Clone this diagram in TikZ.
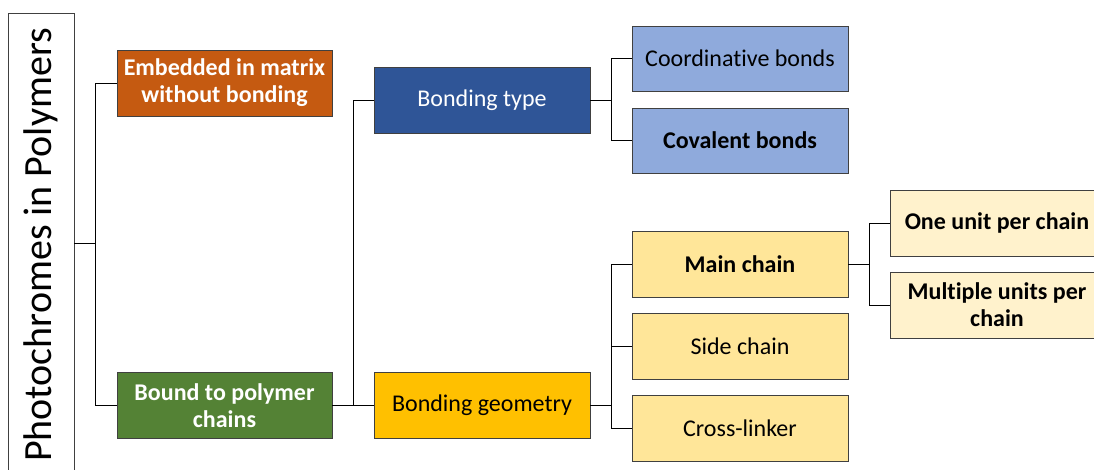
\documentclass[tikz,border=0pt]{standalone}
\usepackage{fontspec}
\setmainfont{Carlito}[Ligatures=NoCommon]
\definecolor{borderc}{HTML}{404040}
\definecolor{orangec}{HTML}{C55A11}
\definecolor{greenc}{HTML}{548235}
\definecolor{bluec}{HTML}{2F5597}
\definecolor{goldc}{HTML}{FFC000}
\definecolor{lbluec}{HTML}{8FAADC}
\definecolor{lgoldc}{HTML}{FFE699}
\definecolor{pgoldc}{HTML}{FFF2CC}
\tikzset{
  box/.style={draw=borderc, line width=0.9pt, rectangle, minimum width=215pt, minimum height=66pt, align=center, inner sep=1pt, font=\fontsize{24}{27}\selectfont},
  bbox/.style={box, font=\fontsize{24}{27}\selectfont\bfseries},
  link/.style={draw=black, line width=0.8pt},
}
\begin{document}
\begin{tikzpicture}[x=1pt,y=-1pt]
\useasboundingbox (0,0) rectangle (1094,470);
\node[draw=borderc, line width=0.9pt, minimum width=66pt, minimum height=470pt, inner sep=0pt] (root) at (41,248) {};
\node[rotate=90, font=\fontsize{40}{44}\selectfont] (roottext) at (41,245) {Photochromes in Polymers};
\node[bbox, text=white, fill=orangec] (emb) at (224.5,83) {Embedded in matrix\\without bonding};
\node[bbox, text=white, fill=greenc] (bound) at (224.5,405.5) {Bound to polymer\\chains};
\node[box, fill=bluec, text=white, minimum width=216pt] (btype) at (482,100) {Bonding type};
\node[box, fill=goldc, minimum width=216pt] (bgeo) at (482,405.5) {Bonding geometry};
\node[box, fill=lbluec, minimum width=216pt, minimum height=65pt] (coord) at (740,58.5) {Coordinative bonds};
\node[bbox, fill=lbluec, minimum width=216pt, minimum height=65pt] (cov) at (740,140.5) {Covalent bonds};
\node[bbox, fill=lgoldc, minimum width=216pt] (main) at (740,264) {Main chain};
\node[box, fill=lgoldc, minimum width=216pt] (side) at (740,346) {Side chain};
\node[box, fill=lgoldc, minimum width=216pt] (cross) at (740,428) {Cross-linker};
\node[bbox, fill=pgoldc, minimum width=214pt] (one) at (997,223) {One unit per chain};
\node[bbox, fill=pgoldc, minimum width=214pt] (multi) at (997,305) {Multiple units per\\chain};
% connectors
\coordinate (j0) at (95,243);
\draw[link] (root.east |- j0) -- (j0);
\draw[link] (j0) |- (emb.west);
\draw[link] (j0) |- (bound.west);
\coordinate (j1) at (353,405.5);
\draw[link] (bound.east) -- (bgeo.west);
\draw[link] (j1) |- (btype.west);
\coordinate (j2) at (611,100);
\draw[link] (btype.east) -- (j2);
\draw[link] (j2) |- (coord.west);
\draw[link] (j2) |- (cov.west);
\coordinate (j3) at (611,405.5);
\draw[link] (bgeo.east) -- (j3);
\draw[link] (j3) |- (main.west);
\draw[link] (j3) |- (side.west);
\draw[link] (j3) |- (cross.west);
\coordinate (j4) at (869,264);
\draw[link] (main.east) -- (j4);
\draw[link] (j4) |- (one.west);
\draw[link] (j4) |- (multi.west);
\end{tikzpicture}
\end{document}
